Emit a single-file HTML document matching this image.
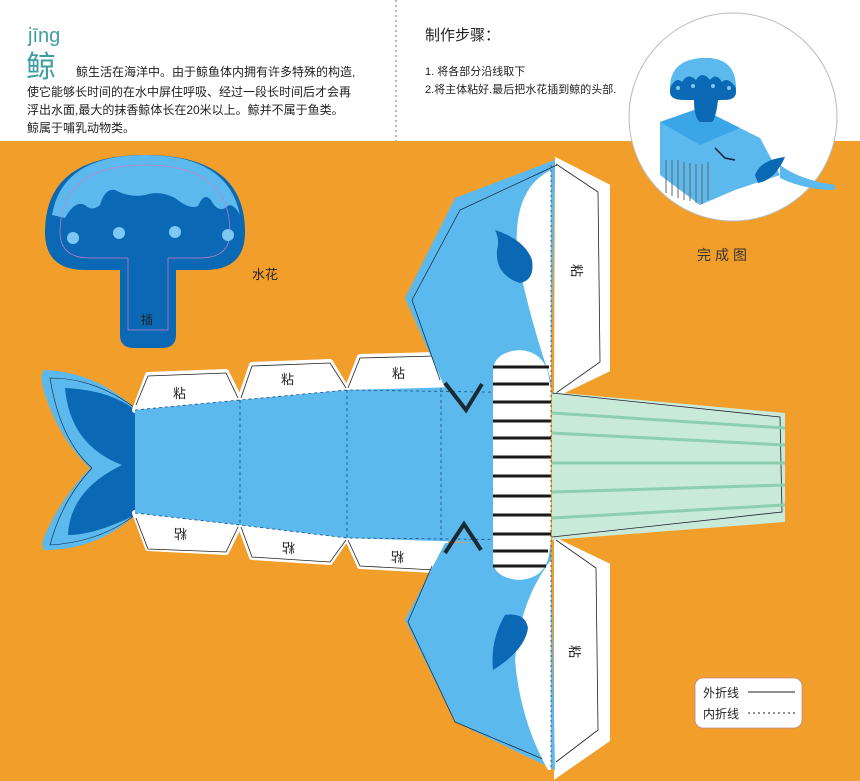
<!DOCTYPE html>
<html><head><meta charset="utf-8"><style>
html,body{margin:0;padding:0;width:860px;height:781px;overflow:hidden;background:#fff}
svg{display:block}
text{font-family:"Liberation Sans","Noto Sans CJK SC",sans-serif}
</style></head><body>
<svg width="860" height="781" viewBox="0 0 860 781" xmlns="http://www.w3.org/2000/svg">
<rect x="0" y="0" width="860" height="781" fill="#F29E2A"/>
<rect x="0" y="0" width="860" height="141" fill="#fff"/>
<line x1="396" y1="0" x2="396" y2="141" stroke="#888" stroke-width="1.2" stroke-dasharray="2,3"/>

<!-- header left -->
<text x="28" y="42" font-size="20" fill="#3f9ea0">jīng</text>
<text x="26" y="77" font-size="30" fill="#3f9ea0">鲸</text>
<g font-size="12" fill="#222">
<text x="76" y="76">鲸生活在海洋中。由于鲸鱼体内拥有许多特殊的构造,</text>
<text x="27" y="96">使它能够长时间的在水中屏住呼吸、经过一段长时间后才会再</text>
<text x="27" y="114">浮出水面,最大的抹香鲸体长在20米以上。鲸并不属于鱼类。</text>
<text x="27" y="132">鲸属于哺乳动物类。</text>
</g>
<text x="425" y="40" font-size="15" fill="#222">制作步骤：</text>
<text x="425" y="75" font-size="11" fill="#222">1. 将各部分沿线取下</text>
<text x="425" y="93" font-size="11" fill="#222">2.将主体粘好.最后把水花插到鲸的头部.</text>

<!-- finished circle -->
<circle cx="733" cy="117" r="104" fill="#fff" stroke="#bbb" stroke-width="1"/>
<g>
<polygon points="660,122 700,108 760,138 780,175 735,190 700,205 660,175" fill="#5CB9EE"/>
<polygon points="660,122 700,108 740,128 700,145" fill="#3aa6e8"/>
<path d="M780,165 Q800,180 835,185 L835,190 Q805,190 780,178 Z" fill="#5CB9EE"/>
<path d="M755,175 Q760,160 785,157 Q775,180 758,183 Z" fill="#0A68B4"/>
<path d="M715,148 L725,158 L735,160" stroke="#123" stroke-width="1.5" fill="none"/>
<g stroke="#666" stroke-width="1">
<line x1="666" y1="160" x2="666" y2="193"/><line x1="672" y1="160" x2="672" y2="196"/><line x1="678" y1="160" x2="678" y2="198"/><line x1="684" y1="162" x2="684" y2="200"/><line x1="690" y1="163" x2="690" y2="201"/><line x1="696" y1="164" x2="696" y2="203"/><line x1="702" y1="164" x2="702" y2="204"/><line x1="708" y1="162" x2="708" y2="200"/>
</g>
<path d="M670,92 Q670,58 706,58 Q736,58 736,92 Q736,100 724,100 L718,100 Q716,118 712,122 L700,122 Q694,118 694,100 L684,100 Q670,100 670,92Z" fill="#0A68B4"/>
<path d="M670,88 Q670,58 706,58 Q736,58 736,88 Q728,76 722,82 Q716,72 710,80 Q702,70 696,80 Q688,72 682,82 Q676,76 670,88Z" fill="#5CB9EE"/>
<g fill="#7dc8f2"><circle cx="678" cy="88" r="2"/><circle cx="693" cy="86" r="2"/><circle cx="713" cy="86" r="2"/><circle cx="729" cy="88" r="2"/></g>
</g>
<text x="697" y="260" font-size="14" fill="#333" letter-spacing="4">完成图</text>

<!-- fountain -->
<path d="M45,232 Q45,155 145,155 Q245,155 245,232 Q245,270 205,270 L176,270 L176,335 Q176,348 162,348 L134,348 Q120,348 120,335 L120,270 L85,270 Q45,270 45,232Z" fill="#0A68B4"/>
<path d="M52,215 Q62,155 145,155 Q228,155 240,215 Q232,200 225,208 Q218,212 212,202 Q205,190 198,206 Q190,210 175,198 Q160,190 145,195 Q130,198 115,190 Q105,188 100,205 Q92,212 85,205 Q75,200 65,218 Z" fill="#5CB9EE"/>
<path d="M60,232 Q60,165 145,165 Q230,165 230,232 Q230,258 200,258 L168,258 L168,330 L128,330 L128,258 L90,258 Q60,258 60,232Z" fill="none" stroke="#c77fd0" stroke-width="0.7"/>
<g fill="#7dc8f2"><circle cx="73" cy="238" r="6"/><circle cx="119" cy="233" r="6"/><circle cx="175" cy="232" r="6"/><circle cx="228" cy="235" r="6"/></g>
<text x="141" y="324" font-size="12" fill="#222">插</text>
<text x="252" y="279" font-size="13" fill="#222">水花</text>

<!-- tail -->
<path d="M135,408 Q95,372 45,370 Q38,372 45,395 Q60,440 90,468 Q60,500 45,535 Q38,552 50,550 Q100,548 135,515Z" fill="#5CB9EE"/>
<path d="M135,408 Q95,378 50,378 Q60,440 92,468 Q62,500 50,545 Q100,542 135,515" fill="none" stroke="#123" stroke-width="0.6"/>
<path d="M135,410 L135,515 Q95,535 68,535 Q70,490 122,465 Q70,445 65,388 Q110,390 135,410Z" fill="#0A68B4"/>

<!-- top tabs -->
<g fill="#fff" stroke="#fff" stroke-width="6" stroke-linejoin="round">
<polygon points="135,410 148,375 226,372 240,400"/>
<polygon points="240,400 252,365 330,362 347,390"/>
<polygon points="347,390 360,357 435,355 445,388"/>
<polygon points="135,513 148,548 226,552 240,524"/>
<polygon points="240,524 252,557 330,562 347,537"/>
<polygon points="347,537 360,566 435,570 445,542"/>
</g>
<g fill="none" stroke="#222" stroke-width="0.8">
<polyline points="136,405 148,376 226,373 238,398"/>
<polyline points="241,398 252,366 330,363 346,388"/>
<polyline points="348,388 360,358 435,356"/>
<polyline points="136,518 148,549 226,552 238,527"/>
<polyline points="241,527 252,557 330,562 346,540"/>
<polyline points="348,540 360,566 435,570"/>
</g>
<g font-size="13" fill="#222">
<text x="173" y="398">粘</text><text x="281" y="384">粘</text><text x="392" y="378">粘</text>
<text transform="translate(187,529) rotate(180)">粘</text>
<text transform="translate(295,543) rotate(180)">粘</text>
<text transform="translate(404,552) rotate(180)">粘</text>
</g>

<!-- body -->
<polygon points="135,410 240,400 347,390 495,386 495,543 347,538 240,525 135,513" fill="#5CB9EE"/>
<g stroke="#1b4f80" stroke-width="0.8" stroke-dasharray="3,3" fill="none">
<polyline points="135,410 240,400 347,390 551,393"/>
<polyline points="135,513 240,525 347,538 551,540"/>
<line x1="240" y1="400" x2="240" y2="525"/>
<line x1="347" y1="390" x2="347" y2="538"/>
<line x1="441" y1="388" x2="441" y2="540"/>
</g>

<!-- head upper -->
<polygon points="557,160 608,186 608,370 556,395" fill="#fff" stroke="#fff" stroke-width="4"/>
<polyline points="556,164 598,192 600,362 556,393" fill="none" stroke="#222" stroke-width="0.8"/>
<path d="M445,388 L405,298 L455,198 L555,160 L551,390Z" fill="#5CB9EE"/>
<polyline points="440,380 412,300 460,210 557,165" fill="none" stroke="#123" stroke-width="0.7"/>
<path d="M551,170 Q510,190 518,260 Q530,320 551,380Z" fill="#fff"/>
<path d="M497,250 Q495,275 520,283 Q535,280 532,260 Q525,240 495,230 Q500,240 497,250Z" fill="#0A68B4"/>
<text transform="translate(572,264) rotate(90)" font-size="13" fill="#222">粘</text>

<!-- head lower -->
<polygon points="556,540 608,565 608,740 556,776" fill="#fff" stroke="#fff" stroke-width="4"/>
<polyline points="556,540 596,568 598,730 556,762" fill="none" stroke="#222" stroke-width="0.8"/>
<path d="M445,543 L405,620 L455,722 L555,770 L551,540Z" fill="#5CB9EE"/>
<polyline points="432,566 408,622 455,722 550,762" fill="none" stroke="#123" stroke-width="0.7"/>
<path d="M551,560 Q520,600 515,660 Q520,720 548,770 L551,770Z" fill="#fff"/>
<path d="M493,670 Q490,640 505,615 Q525,612 528,628 Q525,650 493,670Z" fill="#0A68B4"/>
<text transform="translate(570,645) rotate(90)" font-size="13" fill="#222">粘</text>

<!-- stripes panel -->
<path d="M493,372 Q493,352 520,350 Q545,352 549,378 L551,390 L551,540 L549,555 Q545,578 520,580 Q493,578 493,560Z" fill="#fff"/>
<g stroke="#1a1a1a" stroke-width="3">
<line x1="493" y1="367" x2="549" y2="367"/><line x1="493" y1="384" x2="549" y2="384"/><line x1="493" y1="402" x2="551" y2="402"/><line x1="493" y1="421" x2="551" y2="421"/><line x1="493" y1="438" x2="551" y2="438"/><line x1="493" y1="457" x2="551" y2="457"/><line x1="493" y1="476" x2="551" y2="476"/><line x1="493" y1="496" x2="551" y2="496"/><line x1="493" y1="515" x2="551" y2="515"/><line x1="493" y1="534" x2="551" y2="534"/><line x1="493" y1="551" x2="548" y2="551"/><line x1="493" y1="566" x2="546" y2="566"/>
</g>
<line x1="551" y1="165" x2="551" y2="768" stroke="#555" stroke-width="1" stroke-dasharray="2,3"/>

<!-- chevrons -->
<polyline points="445,383 466,410 482,384" fill="none" stroke="#1a2a33" stroke-width="4"/>
<polyline points="445,553 464,524 481,550" fill="none" stroke="#1a2a33" stroke-width="4"/>

<!-- baleen green -->
<polygon points="552,392 785,413 785,522 552,540" fill="#C9EAD9"/>
<polyline points="552,393 780,417 782,512 552,537" fill="none" stroke="#223" stroke-width="0.8"/>
<g stroke="#8ccfb0" stroke-width="3">
<line x1="552" y1="413" x2="785" y2="428"/><line x1="552" y1="433" x2="785" y2="445"/><line x1="552" y1="463" x2="785" y2="463"/><line x1="552" y1="492" x2="785" y2="485"/><line x1="552" y1="518" x2="785" y2="505"/>
</g>

<!-- legend -->
<rect x="695" y="678" width="107" height="50" rx="8" fill="#fff" stroke="#b88" stroke-width="0.8"/>
<text x="703" y="697" font-size="12" fill="#222">外折线</text>
<text x="703" y="718" font-size="12" fill="#222">内折线</text>
<line x1="748" y1="692" x2="795" y2="692" stroke="#222" stroke-width="1"/>
<line x1="748" y1="713" x2="795" y2="713" stroke="#222" stroke-width="1" stroke-dasharray="2,3"/>
</svg>
</body></html>
